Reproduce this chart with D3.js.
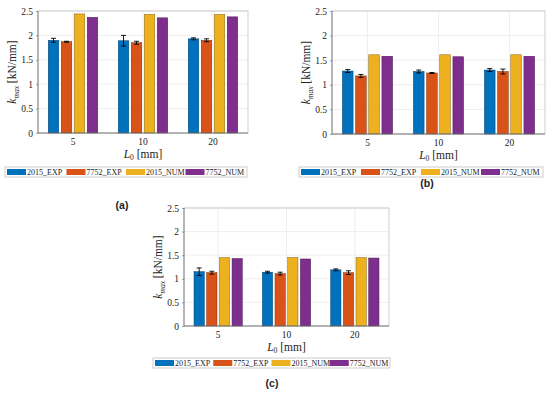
<!DOCTYPE html>
<html>
<head>
<meta charset="utf-8">
<script src="https://cdn.jsdelivr.net/npm/d3@7"></script>
<style>
  body { margin: 0; background: #fff; }
  text { font-family: "Liberation Serif", "DejaVu Serif", serif; fill: #222; }
</style>
</head>
<body>
<script>
// categories and series names
var groups = ["5", "10", "20"];
var series = ["2015_EXP", "7752_EXP", "2015_NUM", "7752_NUM"];
var yTicks = [0, 0.5, 1, 1.5, 2, 2.5];

// panel (a) values
var a2015Exp = [1.90, 1.89, 1.93], a2015ExpErr = [0.04, 0.11, 0.02];
var a7752Exp = [1.87, 1.85, 1.90], a7752ExpErr = [0.01, 0.03, 0.03];
var a2015Num = [2.44, 2.43, 2.43];
var a7752Num = [2.37, 2.36, 2.38];

// panel (b) values
var b2015Exp = [1.28, 1.27, 1.30], b2015ExpErr = [0.03, 0.03, 0.03];
var b7752Exp = [1.18, 1.24, 1.27], b7752ExpErr = [0.03, 0.01, 0.05];
var b2015Num = [1.61, 1.61, 1.61];
var b7752Num = [1.58, 1.57, 1.58];

// panel (c) values
var c2015Exp = [1.15, 1.14, 1.19], c2015ExpErr = [0.08, 0.02, 0.02];
var c7752Exp = [1.13, 1.11, 1.13], c7752ExpErr = [0.03, 0.03, 0.04];
var c2015Num = [1.45, 1.45, 1.45];
var c7752Num = [1.43, 1.42, 1.44];

var colors = ["#0072BD", "#D95319", "#EDB120", "#7E2F8E"];
var edges = ["#00406a", "#7a2e0d", "#8a6712", "#46194f"];

var svg = d3.select("body").append("svg")
    .attr("width", 550)
    .attr("height", 393);

function drawPanel(p) {
  var vals = [p.v[0], p.v[1], p.v[2], p.v[3]];
  var errs = [p.e[0], p.e[1], null, null];

  var x0 = d3.scaleBand().domain(groups).range([p.left, p.right]).padding(0);
  var x1 = d3.scaleBand().domain(series).range([0, x0.bandwidth()])
      .paddingInner(0.19).paddingOuter(0.79);
  var y = d3.scaleLinear().domain([0, 2.5]).range([p.bottom, p.top]);

  var g = svg.append("g");

  // grid
  g.selectAll(".hg").data(yTicks).enter().append("line")
      .attr("x1", p.left).attr("x2", p.right)
      .attr("y1", function(d) { return y(d); }).attr("y2", function(d) { return y(d); })
      .attr("stroke", "#e8e8e8").attr("stroke-width", 0.7);
  g.selectAll(".vg").data(groups).enter().append("line")
      .attr("x1", function(d) { return x0(d) + x0.bandwidth() / 2; })
      .attr("x2", function(d) { return x0(d) + x0.bandwidth() / 2; })
      .attr("y1", p.top).attr("y2", p.bottom)
      .attr("stroke", "#e8e8e8").attr("stroke-width", 0.7);

  // bars
  series.forEach(function(s, si) {
    g.selectAll(".bar" + si).data(groups).enter().append("rect")
        .attr("x", function(d) { return x0(d) + x1(s); })
        .attr("width", x1.bandwidth())
        .attr("y", function(d, i) { return y(vals[si][i]); })
        .attr("height", function(d, i) { return y(0) - y(vals[si][i]); })
        .attr("fill", colors[si])
        .attr("stroke", edges[si]).attr("stroke-width", 0.5);
    if (errs[si]) {
      groups.forEach(function(d, i) {
        var cx = x0(d) + x1(s) + x1.bandwidth() / 2;
        var hi = y(vals[si][i] + errs[si][i]), lo = y(vals[si][i] - errs[si][i]);
        g.append("line").attr("x1", cx).attr("x2", cx).attr("y1", hi).attr("y2", lo)
            .attr("stroke", "#000").attr("stroke-width", 0.9);
        [hi, lo].forEach(function(yy) {
          g.append("line").attr("x1", cx - 2.5).attr("x2", cx + 2.5).attr("y1", yy).attr("y2", yy)
              .attr("stroke", "#000").attr("stroke-width", 0.9);
        });
      });
    }
  });

  // box
  g.append("rect").attr("x", p.left).attr("y", p.top)
      .attr("width", p.right - p.left).attr("height", p.bottom - p.top)
      .attr("fill", "none").attr("stroke", "#b0b0b0").attr("stroke-width", 0.6);
  g.append("line").attr("x1", p.left).attr("x2", p.left).attr("y1", p.top).attr("y2", p.bottom)
      .attr("stroke", "#444").attr("stroke-width", 0.6);
  g.append("line").attr("x1", p.left).attr("x2", p.right).attr("y1", p.bottom).attr("y2", p.bottom)
      .attr("stroke", "#444").attr("stroke-width", 0.6);

  // axes
  var ya = g.append("g").attr("transform", "translate(" + p.left + ",0)")
      .call(d3.axisLeft(y).tickValues(yTicks).tickSize(2).tickPadding(3)
        .tickFormat(function(d) { return d; }));
  ya.select(".domain").remove();
  ya.selectAll("line").attr("stroke", "#666").attr("stroke-width", 0.6);
  ya.selectAll("text").style("font-family", "Liberation Serif, serif").style("font-size", "9.5px").attr("fill", "#222");

  var xa = g.append("g").attr("transform", "translate(0," + p.bottom + ")")
      .call(d3.axisBottom(x0).tickSize(0).tickPadding(5));
  xa.select(".domain").remove();
  xa.selectAll("text").style("font-family", "Liberation Serif, serif").style("font-size", "9.5px").attr("fill", "#222");

  // x label
  var xl = g.append("text").attr("x", (p.left + p.right) / 2).attr("y", p.bottom + 25)
      .attr("text-anchor", "middle").style("font-size", "11.5px");
  xl.append("tspan").style("font-style", "italic").text("L");
  xl.append("tspan").attr("dy", 2).style("font-size", "7.5px").text("0");
  xl.append("tspan").attr("dy", -2).text(" [mm]");

  // y label
  var yl = g.append("text")
      .attr("transform", "translate(" + (p.left - 22) + "," + ((p.top + p.bottom) / 2) + ") rotate(-90)")
      .attr("text-anchor", "middle").style("font-size", "11.5px");
  yl.append("tspan").style("font-style", "italic").text("k");
  yl.append("tspan").attr("dy", 2.5).style("font-size", "7.5px").style("font-style", "italic").text("max");
  yl.append("tspan").attr("dy", -2.5).text(" [kN/mm]");

  // legend
  var lg = svg.append("g");
  lg.append("rect").attr("x", p.lx).attr("y", p.ly).attr("width", p.lw).attr("height", 10)
      .attr("fill", "#fff").attr("stroke", "#aaa").attr("stroke-width", 0.6);
  var step = (p.lw - 4) / 4;
  series.forEach(function(s, si) {
    var sx = p.lx + 2 + si * step;
    lg.append("rect").attr("x", sx).attr("y", p.ly + 2).attr("width", 19).attr("height", 6)
        .attr("fill", colors[si]);
    lg.append("text").attr("x", sx + 20).attr("y", p.ly + 8)
        .style("font-size", "8px").text(s);
  });

  // caption
  svg.append("text").attr("x", p.cx).attr("y", p.cy).attr("text-anchor", "middle")
      .style("font-size", "10.5px").style("font-weight", "bold")
      .style("font-family", "Liberation Sans, Arial, sans-serif").text(p.cap);
}

drawPanel({left: 38, right: 248, top: 11, bottom: 133,
  v: [a2015Exp, a7752Exp, a2015Num, a7752Num], e: [a2015ExpErr, a7752ExpErr],
  lx: 5, ly: 167, lw: 242, cx: 122, cy: 209, cap: "(a)"});

drawPanel({left: 332, right: 545, top: 11, bottom: 134,
  v: [b2015Exp, b7752Exp, b2015Num, b7752Num], e: [b2015ExpErr, b7752ExpErr],
  lx: 299, ly: 167, lw: 244, cx: 427, cy: 187, cap: "(b)"});

drawPanel({left: 184, right: 389, top: 208, bottom: 326,
  v: [c2015Exp, c7752Exp, c2015Num, c7752Num], e: [c2015ExpErr, c7752ExpErr],
  lx: 153, ly: 358, lw: 237, cx: 272, cy: 387, cap: "(c)"});
</script>
</body>
</html>
